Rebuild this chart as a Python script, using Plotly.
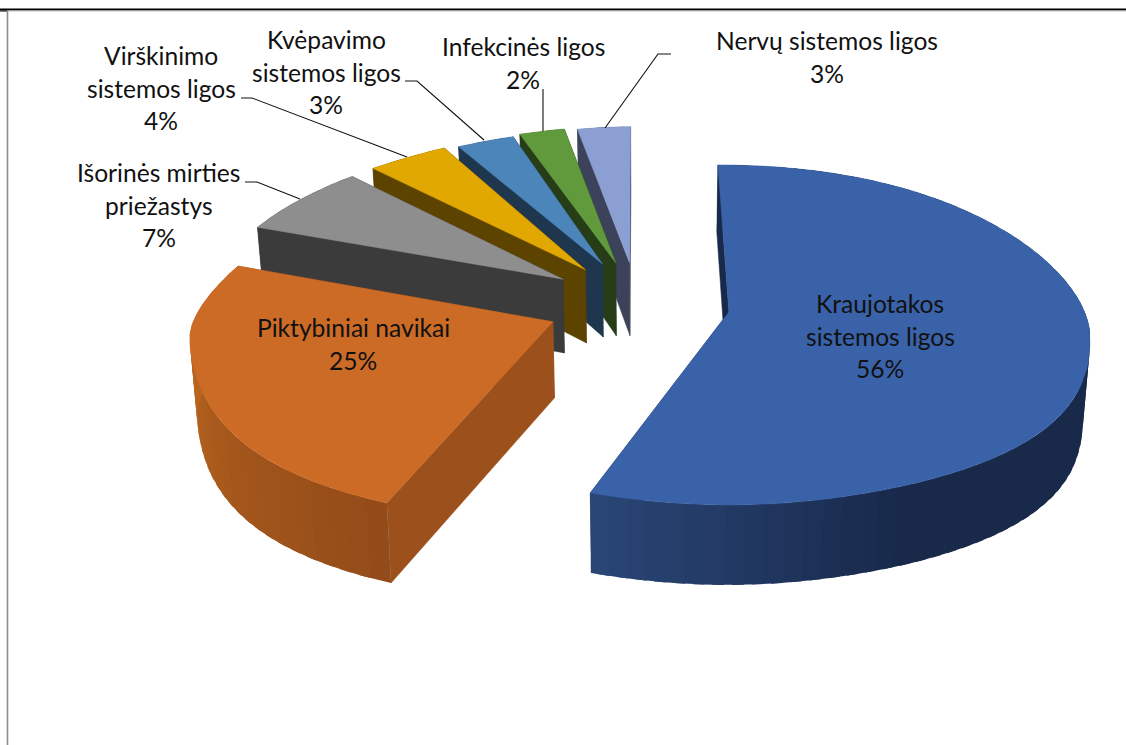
import math
import plotly.graph_objects as go

# data, in drawing order clockwise from 12 o'clock
categories = ["Kraujotakos sistemos ligos", "Piktybiniai navikai", "Išorinės mirties priežastys",
              "Virškinimo sistemos ligos", "Kvėpavimo sistemos ligos", "Infekcinės ligos", "Nervų sistemos ligos"]
values = [56, 25, 7, 4, 3, 2, 3]
label_lines = [["Kraujotakos", "sistemos ligos"], ["Piktybiniai navikai"], ["Išorinės mirties", "priežastys"],
               ["Virškinimo", "sistemos ligos"], ["Kvėpavimo", "sistemos ligos"], ["Infekcinės ligos"], ["Nervų sistemos ligos"]]
label_pos = [(880, 336), (353, 344), (159, 205), (161, 88), (326, 72), (523, 63), (827, 57)]
top_colors = ["#3A62A9", "#CC6B26", "#8E8E8E", "#E0A800", "#4C85BA", "#619A3C", "#8B9FD2"]
wall_colors = ["#18294A", "#9C511D", "#3B3B3B", "#5C4300", "#1F364F", "#263D18", "#3B4259"]
outer_dark = [(24, 41, 74), (147, 76, 25), (59, 59, 59), (92, 67, 0), (31, 54, 79), (38, 61, 24), (59, 66, 89)]
outer_light = [(42, 71, 119), (185, 101, 31), (59, 59, 59), (92, 67, 0), (31, 54, 79), (38, 61, 24), (59, 66, 89)]
leaders = [
    ([245, 257, 300], [182, 182, 199]),
    ([241, 252, 407], [98, 98, 157]),
    ([405, 417, 484], [81, 81, 140]),
    ([543, 543], [89, 131]),
    ([671, 658, 605], [54, 54, 128]),
]

# projection of the tilted, exploded pie onto the page (per-slice style of the 3-D view)
CX, CY, EXPL_X, EXPL_Y = 635, 308, 89.5, 42.4
nudge = [(6, -4), (0, -3), (2, -5), (3, -4), (3, -5), (3, -4), (3, -3)]
rim_rx = [361, 363, 340, 365, 372, 384, 370]
rim_back = [147, 182, 141, 139, 134, 136, 136]
rim_front = [193, 198, 190, 190, 190, 190, 190]
narrow = [0, 0.30, 0.15, 0.24, 0.24, 0.24, 0.24]
lean = [-11, 0, 0, 0, 0, 0, 1]
tilt = [31, 20, 0, 0, 0, 0, 0]
front_stretch = [0.05, 0.28, 0, 0, 0, 0, 0]
front_power = [1, 1.3, 1, 1, 1, 1, 1]
spread = [1, 1, 1, 1, 1, 1.2, 1]
total = sum(values)


def apex_of(i, mid):
    return (CX + EXPL_X * math.sin(mid) + nudge[i][0], CY - EXPL_Y * math.cos(mid) + nudge[i][1])


def rim(i, theta, mid):
    ax, ay = apex_of(i, mid)
    view = mid + (theta - mid) * spread[i]
    u, v = math.sin(view), math.cos(view)
    g = 1 - narrow[i] * max(v, 0) ** 1.5
    g *= 1 + front_stretch[i] * max(-v, 0) ** 2
    x = ax + rim_rx[i] * u * g + lean[i] * max(v, 0)
    t = tilt[i] * abs(u) ** 3
    if v > 0:
        y = ay - rim_back[i] * v + 0.7 * t
    else:
        y = ay + rim_front[i] * abs(v) ** front_power[i] + t
    return x, y


def drop(p):
    x, y = p
    depth = min(80, 76 + 10 * (y - 320) / 180)
    return x + (650 - x) * 0.016, y + depth


def poly(fig, pts, color, lw=0.5):
    xs = [p[0] for p in pts] + [pts[0][0]]
    ys = [p[1] for p in pts] + [pts[0][1]]
    fig.add_trace(go.Scatter(x=xs, y=ys, mode="lines", fill="toself", fillcolor=color,
                             line=dict(color=color, width=lw), hoverinfo="skip", showlegend=False))


fig = go.Figure()

starts, acc = [], 0
for val in values:
    starts.append(acc / total * 2 * math.pi)
    acc += val
ends = [s + val / total * 2 * math.pi for s, val in zip(starts, values)]

for i in reversed(range(len(values))):
    a0, a1 = starts[i], ends[i]
    mid = (a0 + a1) / 2
    apex = apex_of(i, mid)
    p0, p1 = rim(i, a0, mid), rim(i, a1, mid)
    # inner walls
    poly(fig, [p1, apex, drop(apex), drop(p1)], wall_colors[i])
    poly(fig, [p0, apex, drop(apex), drop(p0)], wall_colors[i])
    # outer rim wall, shaded along the arc; each strip runs under the next to hide seams
    n = max(2, int((a1 - a0) / math.radians(3)))
    for k in range(n):
        step = (a1 - a0) / n
        t0 = a0 + step * k
        t1 = min(a1, t0 + step * 1.6)
        f = (k + 0.5) / n
        if i == 0:
            w = max(0, (f - 0.75) / 0.25)
        elif i == 1:
            w = min(1, f / 0.76)
        else:
            w = 0
        c0, c1 = outer_dark[i], outer_light[i]
        col = "rgb(%d,%d,%d)" % tuple(c0[j] + (c1[j] - c0[j]) * w for j in range(3))
        pts = [rim(i, t0 + (t1 - t0) * m / 4, mid) for m in range(5)]
        poly(fig, pts + [drop(q) for q in reversed(pts)], col, lw=0)
    # top face
    arc = [rim(i, a0 + (a1 - a0) * k / 80, mid) for k in range(81)]
    poly(fig, [apex] + arc, top_colors[i])

# leader lines
for lx, ly in leaders:
    fig.add_trace(go.Scatter(x=lx, y=ly, mode="lines", line=dict(color="#111111", width=1.1),
                             hoverinfo="skip", showlegend=False))

# data labels
LINE_GAP = 32.5
FONT = dict(family="Lato, Carlito, sans-serif", size=24.6, color="#111111")
for lines, val, (x, y) in zip(label_lines, values, label_pos):
    rows = lines + [f"{val}%"]
    top = y - LINE_GAP * (len(rows) - 1) / 2
    for k, row in enumerate(rows):
        fig.add_annotation(x=x, y=top + k * LINE_GAP, text=row, showarrow=False, font=FONT,
                           xanchor="center", yanchor="middle")

# page frame
fig.add_shape(type="line", x0=0, x1=1126, y0=9.5, y1=9.5, line=dict(color="#000000", width=2))
fig.add_shape(type="line", x0=8, x1=1126, y0=11, y1=11, line=dict(color="#BBBBBB", width=1))
fig.add_shape(type="line", x0=0, x1=7, y0=11, y1=11, line=dict(color="#000000", width=1))
fig.add_shape(type="line", x0=7.5, x1=7.5, y0=11, y1=745, line=dict(color="#8C8C8C", width=1.6))

fig.update_layout(
    width=1126, height=745, margin=dict(l=0, r=0, t=0, b=0),
    paper_bgcolor="white", plot_bgcolor="white", showlegend=False,
    xaxis=dict(range=[0, 1126], visible=False, fixedrange=True),
    yaxis=dict(range=[745, 0], visible=False, fixedrange=True),
)
fig.write_html("out.html", config=dict(displayModeBar=False),
               post_script="document.body.style.margin='0';document.body.style.overflow='hidden';")
